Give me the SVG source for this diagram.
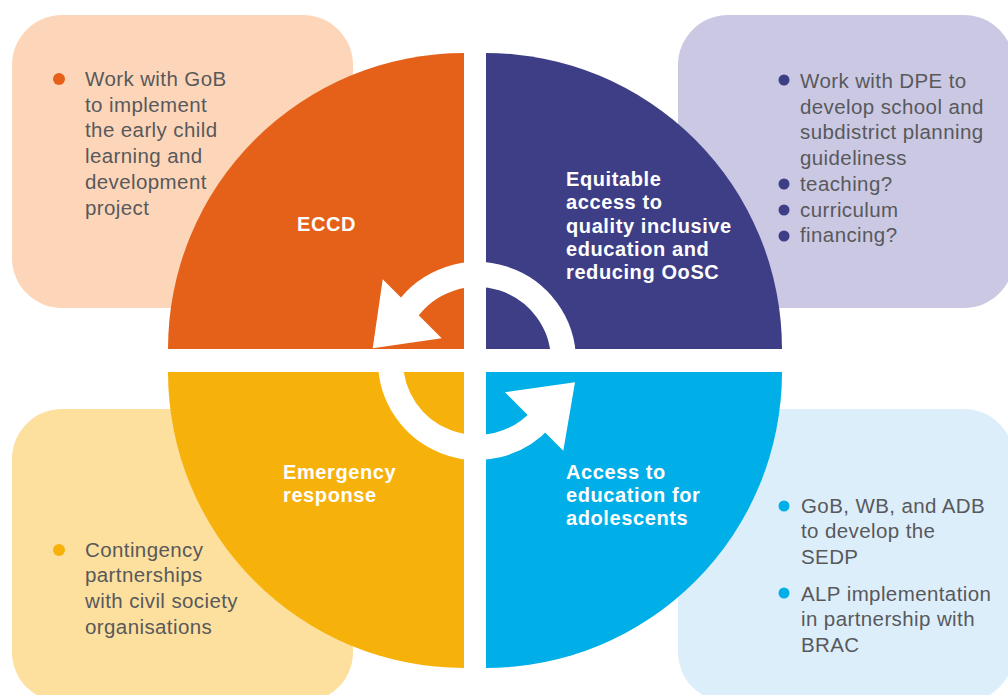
<svg xmlns="http://www.w3.org/2000/svg" width="1008" height="695" viewBox="0 0 1008 695">
<style>
.body{font-family:"Liberation Sans",Arial,sans-serif;font-size:20.5px;fill:#58595b;letter-spacing:0.4px}
.lbl{font-family:"Liberation Sans",Arial,sans-serif;font-size:20px;font-weight:bold;fill:#ffffff;letter-spacing:0.6px}
.ring{fill:none;stroke:#ffffff;stroke-width:25}
.head{fill:#ffffff}
</style>
<rect width="1008" height="695" fill="#ffffff"/>
<g id="box-tl"><rect x="12" y="15" width="341" height="293" rx="50" fill="#fdd6b9"/>
<circle cx="59" cy="79" r="6" fill="#e5611a"/>
<text class="body"><tspan x="85" y="86">Work with GoB</tspan><tspan x="85" y="111.7">to implement</tspan><tspan x="85" y="137.4">the early child</tspan><tspan x="85" y="163.1">learning and</tspan><tspan x="85" y="188.8">development</tspan><tspan x="85" y="214.5">project</tspan></text></g>
<g id="box-tr"><rect x="678" y="15" width="336" height="293" rx="50" fill="#cbc8e4"/>
<g fill="#3e3e87"><circle cx="784" cy="80" r="5.5"/><circle cx="784" cy="184" r="5.5"/><circle cx="784" cy="210" r="5.5"/><circle cx="784" cy="236" r="5.5"/></g>
<text class="body"><tspan x="800" y="88">Work with DPE to</tspan><tspan x="800" y="113.7">develop school and</tspan><tspan x="800" y="139.4">subdistrict planning</tspan><tspan x="800" y="165.1">guideliness</tspan><tspan x="800" y="190.8">teaching?</tspan><tspan x="800" y="216.5">curriculum</tspan><tspan x="800" y="242.2">financing?</tspan></text></g>
<g id="box-bl"><rect x="12" y="409" width="341" height="293" rx="50" fill="#fddf9e"/>
<circle cx="59" cy="550" r="6" fill="#f6b20a"/>
<text class="body"><tspan x="85" y="556.5">Contingency</tspan><tspan x="85" y="582.2">partnerships</tspan><tspan x="85" y="607.9">with civil society</tspan><tspan x="85" y="633.6">organisations</tspan></text></g>
<g id="box-br"><rect x="678" y="409" width="336" height="293" rx="50" fill="#ddeefb"/>
<g fill="#00aee8"><circle cx="784" cy="506" r="5.5"/><circle cx="784" cy="593" r="5.5"/></g>
<text class="body"><tspan x="801" y="512.5">GoB, WB, and ADB</tspan><tspan x="801" y="538.2">to develop the</tspan><tspan x="801" y="564">SEDP</tspan><tspan x="801" y="600.5">ALP implementation</tspan><tspan x="801" y="626.2">in partnership with</tspan><tspan x="801" y="652">BRAC</tspan></text></g>
<g id="q-eccd"><path d="M464 349 L464 53 A296 296 0 0 0 168 349 Z" fill="#e5611a"/>
<text class="lbl" x="297" y="230.5">ECCD</text></g>
<g id="q-access"><path d="M486 349 L486 53 A296 296 0 0 1 782 349 Z" fill="#3e3e87"/>
<text class="lbl"><tspan x="566" y="186">Equitable</tspan><tspan x="566" y="209.3">access to</tspan><tspan x="566" y="232.6">quality inclusive</tspan><tspan x="566" y="255.9">education and</tspan><tspan x="566" y="279.2">reducing OoSC</tspan></text></g>
<g id="q-emergency"><path d="M464 372 L168 372 A296 296 0 0 0 464 668 Z" fill="#f6b20a"/>
<text class="lbl"><tspan x="283" y="479">Emergency</tspan><tspan x="283" y="502">response</tspan></text></g>
<g id="q-adolescents"><path d="M486 372 L782 372 A296 296 0 0 1 486 668 Z" fill="#00aee8"/>
<text class="lbl"><tspan x="566" y="479">Access to</tspan><tspan x="566" y="502">education for</tspan><tspan x="566" y="525">adolescents</tspan></text></g>
<g id="connectors">
<path class="ring" d="M563.5 361 A86.5 86.5 0 0 0 406.1 311.4"/>
<polygon class="head" points="382.7,279.3 441.7,338.3 372.7,348.3"/>
<path class="ring" d="M390.5 361 A86.5 86.5 0 0 0 541.3 418.9"/>
<polygon class="head" points="505,392.3 575,382.3 563.3,450.7"/>
</g>
</svg>
